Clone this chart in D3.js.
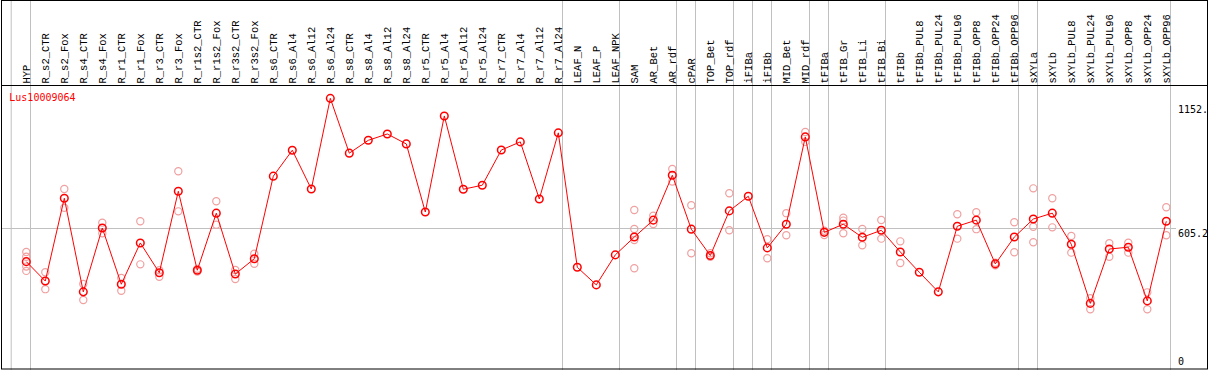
<!DOCTYPE html>
<html>
<head>
<meta charset="utf-8">
<script src="https://cdn.jsdelivr.net/npm/d3@7"></script>
<style>
html,body{margin:0;padding:0;background:#fff;}
svg{display:block;}
text{font-family:"DejaVu Sans Mono",monospace;font-size:10px;}
text.cat{font-family:"Liberation Mono","DejaVu Sans Mono",monospace;font-size:10.5px;}
</style>
</head>
<body>
<svg id="chart" width="1209" height="370"></svg>
<script>
const title = "Lus10009064";
const categories = ["HYP","R_s2_CTR","R_s2_Fox","R_s4_CTR","R_s4_Fox","R_r1_CTR","R_r1_Fox","R_r3_CTR","R_r3_Fox","R_r1s2_CTR","R_r1s2_Fox","R_r3s2_CTR","R_r3s2_Fox","R_s6_CTR","R_s6_Al4","R_s6_Al12","R_s6_Al24","R_s8_CTR","R_s8_Al4","R_s8_Al12","R_s8_Al24","R_r5_CTR","R_r5_Al4","R_r5_Al12","R_r5_Al24","R_r7_CTR","R_r7_Al4","R_r7_Al12","R_r7_Al24","LEAF_N","LEAF_P","LEAF_NPK","SAM","AR_Bet","AR_rdf","cPAR","TOP_Bet","TOP_rdf","iFIBa","iFIBb","MID_Bet","MID_rdf","tFIBa","tFIB_Gr","tFIB_Li","tFIB_Bi","tFIBb","tFIBb_PUL8","tFIBb_PUL24","tFIBb_PUL96","tFIBb_OPP8","tFIBb_OPP24","tFIBb_OPP96","sXYLa","sXYLb","sXYLb_PUL8","sXYLb_PUL24","sXYLb_PUL96","sXYLb_OPP8","sXYLb_OPP24","sXYLb_OPP96"];
const means = [456,370,737,322,605,356,539,407,768,418,671,401,469,835,950,778,1180,937,994,1022,978,676,1102,777,795,951,987,734,1027,431,353,486,565,640,839,600,483,681,746,517,622,1009,586,622,564,595,499,409,322,613,640,446,565,645,671,533,271,512,520,282,635];
const replicates = [
 [499,478,434,415],[409,334],[778,695],[357,286],[629,582],[384,327],[635,444],[418,389],[857,679],[424,412],[724,620],[419,379],[491,447],
 [],[],[],[],[],[],[],[],[],[],[],[],[],[],[],[],[],[],[],
 [685,601,552,427],[660,623],[867,811],[706,493],[493,478],[759,595],[],[555,471],[671,573],[1031,987],[593,574],[651,638,582],[601,529],[641,558],
 [546,450],[],[],[666,558],[675,600],[451,440],[631,498],[781,611,542],[737,608],[570,496],[294,245],[538,478],[540,496],[320,245],[697,573]
];
const groupEnds = ["HYP","R_r7_Al24","LEAF_NPK","AR_rdf","cPAR","TOP_rdf","iFIBa","iFIBb","MID_rdf","tFIBa","tFIB_Bi","tFIBb_OPP96","sXYLa","sXYLb_OPP96"];
const yTicks = [0, 605.2, 1152];
const yTickLabels = ["0", "605.2", "1152."];

const W = 1209, H = 370;
const svg = d3.select("#chart");
const x = d3.scaleBand().domain(categories).range([11.7, 11.7 + categories.length * 19]).padding(0);
const px = c => x(c) + 14.6;
const y = d3.scaleLinear().domain([0, 1210.4]).range([364.5, 91.5]);

const red = "#ff0000", pink = "#f0a0a0", grid = "#c0c0c0";

// vertical grid lines
svg.append("line").attr("x1", 11.2).attr("x2", 11.2).attr("y1", 0).attr("y2", H).attr("stroke", grid);
svg.selectAll("line.vg").data(groupEnds).enter().append("line")
  .attr("class","vg")
  .attr("x1", d => Math.round(x(d) + 19) - 0.5).attr("x2", d => Math.round(x(d) + 19) - 0.5)
  .attr("y1", 0).attr("y2", H).attr("stroke", grid);

// horizontal grid line at middle tick
svg.append("line").attr("x1", 1).attr("x2", 1176)
  .attr("y1", Math.round(y(605.2)) + 0.5).attr("y2", Math.round(y(605.2)) + 0.5).attr("stroke", grid);

// frame
svg.append("rect").attr("x", 1.5).attr("y", 0.5).attr("width", 1206).attr("height", 368.5)
  .attr("fill", "none").attr("stroke", "#000");
svg.append("line").attr("x1", 1).attr("x2", 1208).attr("y1", 85.5).attr("y2", 85.5).attr("stroke", "#000");

// column labels
svg.selectAll("text.cat").data(categories).enter().append("text")
  .attr("class","cat")
  .attr("transform", d => `translate(${px(d) + 3.5},83.5) rotate(-90)`)
  .attr("fill", "#000")
  .text(d => d);

// y tick labels
svg.selectAll("text.yt").data(yTicks).enter().append("text")
  .attr("class","yt")
  .attr("x", 1178)
  .attr("y", (d, i) => i === 0 ? y(d) + 0.5 : y(d) + 8.5)
  .attr("fill", "#000")
  .text((d, i) => yTickLabels[i]);

// title
svg.append("text").attr("x", 9.3).attr("y", 100.5).attr("fill", red).text(title);

// replicate circles
const repPts = [];
replicates.forEach((arr, i) => arr.forEach(v => repPts.push({c: categories[i], v})));
svg.selectAll("circle.rep").data(repPts).enter().append("circle")
  .attr("class","rep")
  .attr("cx", d => px(d.c)).attr("cy", d => y(d.v)).attr("r", 3.6)
  .attr("fill", "none").attr("stroke", pink).attr("stroke-width", 1.2);

// mean line
const line = d3.line().x((d, i) => px(categories[i])).y(d => y(d));
svg.append("path").datum(means).attr("d", line)
  .attr("fill", "none").attr("stroke", red).attr("stroke-width", 1);

// mean circles
svg.selectAll("circle.mean").data(means).enter().append("circle")
  .attr("class","mean")
  .attr("cx", (d, i) => px(categories[i])).attr("cy", d => y(d)).attr("r", 3.8)
  .attr("fill", "none").attr("stroke", red).attr("stroke-width", 1.5);
</script>
</body>
</html>
